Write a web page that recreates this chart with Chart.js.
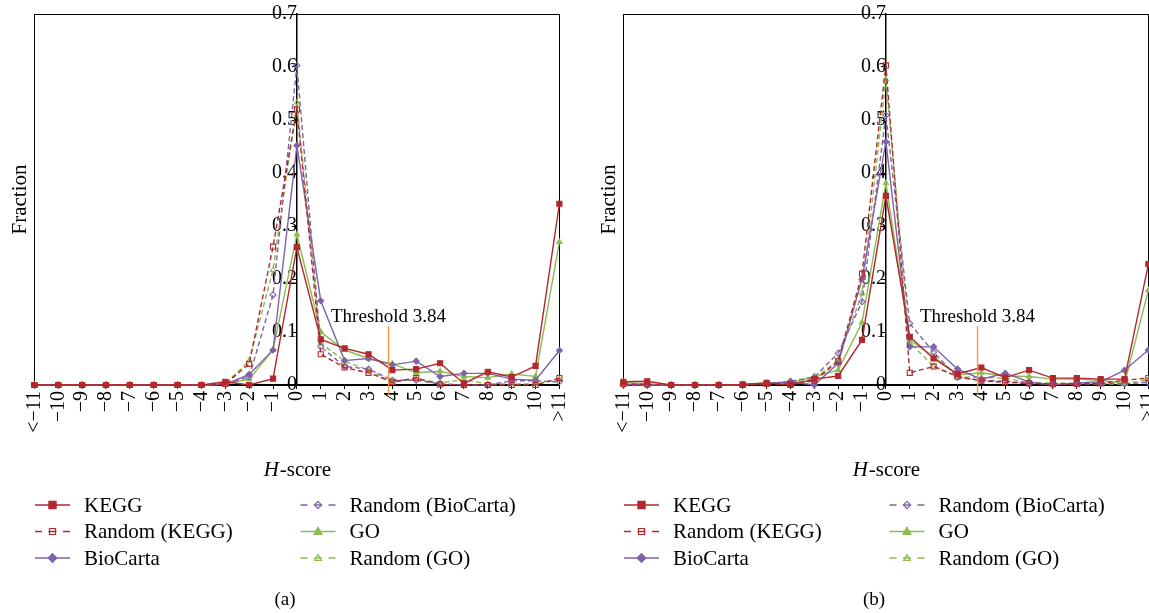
<!DOCTYPE html>
<html>
<head>
<meta charset="utf-8">
<script src="https://cdn.jsdelivr.net/npm/chart.js@4.4.1/dist/chart.umd.min.js"></script>
<style>
html, body { margin: 0; padding: 0; background: #fff; overflow: hidden; width: 1149px; height: 613px; }
canvas { position: absolute; top: 0; }
#chartA { left: 0; }
#chartB { left: 589px; }
</style>
</head>
<body>
<canvas id="chartA" width="580" height="613"></canvas>
<canvas id="chartB" width="580" height="613"></canvas>
<script>
// H-score bins (x axis)
const hScoreLabels = ['<\u221211', '\u221210', '\u22129', '\u22128', '\u22127', '\u22126', '\u22125', '\u22124', '\u22123', '\u22122', '\u22121',
  '0', '1', '2', '3', '4', '5', '6', '7', '8', '9', '10', '>11'];
const yTickLabels = ['0', '0.1', '0.2', '0.3', '0.4', '0.5', '0.6', '0.7'];
const seriesNames = ['KEGG', 'Random (KEGG)', 'BioCarta', 'Random (BioCarta)', 'GO', 'Random (GO)'];
const thresholdValue = 3.84;

// panel (a)
const keggA      = [0, 0, 0, 0, 0, 0, 0, 0, 0.006, 0, 0.012, 0.26, 0.086, 0.069, 0.058, 0.028, 0.03, 0.041, 0.003, 0.025, 0.015, 0.036, 0.342];
const randKeggA  = [0, 0, 0, 0, 0, 0, 0, 0, 0.002, 0.04, 0.261, 0.52, 0.058, 0.033, 0.023, 0.006, 0.013, 0.001, 0, 0, 0, 0, 0.013];
const biocartaA  = [0, 0, 0, 0, 0, 0, 0, 0, 0.001, 0.02, 0.066, 0.452, 0.159, 0.046, 0.05, 0.038, 0.045, 0.016, 0.022, 0.022, 0.011, 0.009, 0.065];
const randBioA   = [0, 0, 0, 0, 0, 0, 0, 0, 0.002, 0.015, 0.17, 0.603, 0.072, 0.035, 0.03, 0.009, 0.009, 0.002, 0, 0, 0.008, 0.008, 0.006];
const goA        = [0, 0, 0, 0, 0, 0, 0, 0, 0.002, 0.011, 0.066, 0.284, 0.1, 0.066, 0.05, 0.04, 0.023, 0.026, 0.016, 0.014, 0.021, 0.016, 0.27];
const randGoA    = [0, 0, 0, 0, 0, 0, 0, 0, 0.002, 0.046, 0.217, 0.533, 0.079, 0.045, 0.028, 0.005, 0.012, 0.004, 0.01, 0.002, 0.002, 0.002, 0.01];

// panel (b)
const keggB      = [0.006, 0.007, 0, 0, 0, 0.001, 0.004, 0, 0.011, 0.017, 0.085, 0.357, 0.091, 0.05, 0.021, 0.033, 0.014, 0.028, 0.013, 0.013, 0.011, 0.011, 0.228];
const randKeggB  = [0.002, 0.001, 0, 0, 0, 0, 0.002, 0.002, 0.008, 0.045, 0.21, 0.603, 0.023, 0.035, 0.016, 0.008, 0.005, 0.003, 0.002, 0.002, 0.003, 0.009, 0.013];
const biocartaB  = [0.001, 0, 0, 0, 0, 0.001, 0.003, 0.006, 0, 0.041, 0.2, 0.459, 0.072, 0.072, 0.03, 0.011, 0.022, 0.006, 0, 0.004, 0.006, 0.028, 0.066];
const randBioB   = [0, 0, 0, 0, 0, 0, 0.002, 0.007, 0.015, 0.06, 0.157, 0.509, 0.116, 0.062, 0.014, 0.009, 0.007, 0.003, 0.002, 0.002, 0.003, 0.002, 0.005];
const goB        = [0.005, 0.002, 0, 0, 0, 0.001, 0.004, 0.004, 0.016, 0.028, 0.118, 0.381, 0.085, 0.053, 0.019, 0.023, 0.017, 0.016, 0.011, 0.011, 0.009, 0.003, 0.179];
const randGoB    = [0.004, 0.001, 0, 0, 0, 0, 0.003, 0.003, 0.012, 0.047, 0.173, 0.577, 0.08, 0.035, 0.016, 0.014, 0.013, 0.004, 0.004, 0.003, 0.002, 0.002, 0.01];

const RED = '#b2282d', PURPLE = '#7f63a8', GREEN = '#8dbb4f', ORANGE = '#f7963c';
const SERIF = '"Liberation Serif", "Times New Roman", serif';
const styles = [
  { color: RED, dashed: false, shape: 'rect' },
  { color: RED, dashed: true, shape: 'rect' },
  { color: PURPLE, dashed: false, shape: 'rectRot' },
  { color: PURPLE, dashed: true, shape: 'rectRot' },
  { color: GREEN, dashed: false, shape: 'triangle' },
  { color: GREEN, dashed: true, shape: 'triangle' }
];

function drawMarker(ctx, shape, x, y, r, color, filled) {
  ctx.beginPath();
  if (shape === 'rect') {
    ctx.rect(x - r, y - r, 2 * r, 2 * r);
  } else if (shape === 'rectRot') {
    ctx.moveTo(x, y - r * 1.2); ctx.lineTo(x + r * 1.2, y); ctx.lineTo(x, y + r * 1.2); ctx.lineTo(x - r * 1.2, y);
    ctx.closePath();
  } else {
    ctx.moveTo(x, y - r * 1.2); ctx.lineTo(x + r * 1.1, y + r * 0.8); ctx.lineTo(x - r * 1.1, y + r * 0.8);
    ctx.closePath();
  }
  ctx.strokeStyle = color;
  ctx.lineWidth = 1.2;
  if (filled) { ctx.fillStyle = color; ctx.fill(); }
  ctx.stroke();
}

// frame, threshold, legend and captions
const decorPlugin = {
  id: 'decor',
  beforeDatasetsDraw(chart) {
    const { ctx, chartArea: a } = chart;
    ctx.save();
    ctx.strokeStyle = '#000';
    ctx.lineWidth = 1;
    ctx.strokeRect(Math.round(a.left) + 0.5, Math.round(a.top) + 0.5, Math.round(a.right - a.left), Math.round(a.bottom - a.top));
    ctx.restore();
  },
  afterDraw(chart, args, opts) {
    const { ctx, chartArea: a, scales: { x, y } } = chart;
    ctx.save();
    // threshold
    const tx = x.getPixelForValue(hScoreLabels.indexOf('0') + thresholdValue);
    const ty = y.getPixelForValue(0.111);
    ctx.strokeStyle = ORANGE;
    ctx.lineWidth = 1.4;
    ctx.beginPath(); ctx.moveTo(tx, ty); ctx.lineTo(tx, a.bottom + 10); ctx.stroke();
    ctx.fillStyle = '#000';
    ctx.font = '19px ' + SERIF;
    ctx.textAlign = 'center';
    ctx.textBaseline = 'alphabetic';
    ctx.fillText('Threshold ' + thresholdValue, tx, ty - 4);

    // y title
    ctx.save();
    ctx.translate(26, (a.top + a.bottom) / 2);
    ctx.rotate(-Math.PI / 2);
    ctx.font = '21px ' + SERIF;
    ctx.textAlign = 'center';
    ctx.fillText('Fraction', 0, 0);
    ctx.restore();

    // x title with italic H
    const cx = (a.left + a.right) / 2;
    ctx.font = 'italic 21px ' + SERIF;
    const wH = ctx.measureText('H').width;
    ctx.font = '21px ' + SERIF;
    const wRest = ctx.measureText('-score').width;
    const sx = cx - (wH + wRest) / 2;
    ctx.textAlign = 'left';
    ctx.font = 'italic 21px ' + SERIF;
    ctx.fillText('H', sx, 476);
    ctx.font = '21px ' + SERIF;
    ctx.fillText('-score', sx + wH + 1, 476);

    // legend, two columns
    chart.data.datasets.forEach((ds, i) => {
      const st = styles[i];
      const col = Math.floor(i / 3), row = i % 3;
      const x1 = col ? 300.5 : 35, x2 = x1 + 35;
      const ly = 505 + row * 26.5;
      const mx = (x1 + x2) / 2;
      ctx.strokeStyle = st.color;
      ctx.lineWidth = 1.4;
      ctx.beginPath();
      if (st.dashed) {
        ctx.moveTo(x1, ly); ctx.lineTo(x1 + 7, ly);
        ctx.moveTo(x2 - 7, ly); ctx.lineTo(x2, ly);
        ctx.moveTo(mx - 4, ly); ctx.lineTo(mx + 4, ly);
      } else {
        ctx.moveTo(x1, ly); ctx.lineTo(x2, ly);
      }
      ctx.stroke();
      drawMarker(ctx, st.shape, mx, ly, st.dashed ? 3 : 3.6, st.color, !st.dashed);
      ctx.fillStyle = '#000';
      ctx.font = '21px ' + SERIF;
      ctx.textAlign = 'left';
      ctx.textBaseline = 'middle';
      ctx.fillText(ds.label, x2 + 14, ly + 1);
      ctx.textBaseline = 'alphabetic';
    });

    // panel caption
    ctx.font = '19px ' + SERIF;
    ctx.textAlign = 'center';
    ctx.textBaseline = 'middle';
    ctx.fillText(opts.caption, 285, 600);
    ctx.restore();
  }
};

function makeChart(id, caption, series) {
  const ctx = document.getElementById(id).getContext('2d');
  const datasets = series.map((values, i) => {
    const st = styles[i];
    return {
      label: seriesNames[i],
      data: values,
      borderColor: st.color,
      backgroundColor: st.color,
      borderWidth: 1.4,
      borderDash: st.dashed ? [5, 3] : [],
      pointStyle: st.shape,
      pointRadius: st.shape === 'rect' ? 3.6 : 3,
      pointBorderWidth: 1.1,
      pointBorderColor: st.color,
      pointBackgroundColor: st.dashed ? 'rgba(255,255,255,0)' : st.color,
      tension: 0,
      fill: false,
      clip: false
    };
  });
  return new Chart(ctx, {
    type: 'line',
    data: { labels: hScoreLabels, datasets: datasets },
    options: {
      responsive: false,
      animation: false,
      events: [],
      layout: { padding: { left: 34.4, right: 20.6, top: 14, bottom: 0 } },
      scales: {
        x: {
          type: 'category',
          offset: false,
          border: { display: true, color: '#000', width: 2 },
          grid: { drawOnChartArea: false, drawTicks: true, tickLength: 4, color: '#000' },
          ticks: {
            autoSkip: false, minRotation: 90, maxRotation: 90, padding: 2,
            color: '#000', font: { family: SERIF, size: 20 }
          },
          afterFit: s => { s.height = 228; s.paddingLeft = 0; s.paddingRight = 0; }
        },
        y: {
          type: 'linear',
          position: { x: hScoreLabels.indexOf('0') },
          min: 0, max: 0.7,
          border: { display: true, color: '#000', width: 1.5 },
          grid: { drawOnChartArea: false, drawTicks: true, tickLength: 4, color: '#000' },
          ticks: {
            stepSize: 0.1, padding: 2, color: '#000',
            font: { family: SERIF, size: 20 },
            callback: (v, i) => yTickLabels[i]
          }
        }
      },
      plugins: {
        legend: { display: false },
        tooltip: { enabled: false },
        decor: { caption: caption }
      }
    },
    plugins: [decorPlugin]
  });
}

makeChart('chartA', '(a)', [keggA, randKeggA, biocartaA, randBioA, goA, randGoA]);
makeChart('chartB', '(b)', [keggB, randKeggB, biocartaB, randBioB, goB, randGoB]);
</script>
</body>
</html>
